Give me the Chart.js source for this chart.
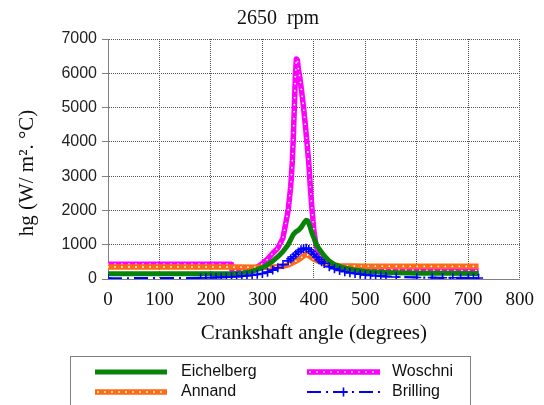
<!DOCTYPE html>
<html>
<head>
<meta charset="utf-8">
<script src="https://cdn.jsdelivr.net/npm/chart.js@4/dist/chart.umd.min.js"></script>
<style>
  html, body { margin: 0; padding: 0; background: #fff; }
  #wrap { width: 544px; height: 405px; position: relative; }
</style>
</head>
<body>
<div id="wrap"><canvas id="c" width="544" height="405"></canvas></div>
<script>
// Gas-side heat transfer coefficient over the cycle, 2650 rpm
const chartTitle = '2650  rpm';
const xTitle = 'Crankshaft angle (degrees)';
const yTitle = 'hg (W/ m\u00B2. \u00B0C)';

const eichelbergAngle = [0, 240, 260, 280, 300, 310, 320, 330, 340, 350, 355, 360, 365, 370, 375, 380, 385, 388, 392, 396, 400, 405, 410, 420, 430, 440, 460, 480, 500, 540, 600, 660, 720];
const eichelbergH     = [150, 150, 170, 220, 330, 420, 520, 650, 800, 1000, 1150, 1300, 1380, 1420, 1500, 1620, 1710, 1700, 1550, 1350, 1200, 1000, 880, 680, 520, 420, 320, 260, 220, 190, 170, 165, 160];

const annandAngle = [0, 240, 300, 320, 340, 350, 360, 370, 378, 385, 390, 395, 400, 410, 420, 430, 450, 500, 600, 720];
const annandH     = [350, 350, 340, 340, 370, 410, 480, 560, 650, 720, 690, 630, 580, 510, 460, 420, 390, 375, 370, 370];

const woschniAngle = [0, 240, 241, 270, 285, 300, 310, 320, 330, 340, 345, 350, 355, 358, 360, 362, 364, 366, 368, 370, 372, 376, 380, 384, 387, 390, 393, 396, 400, 404, 410, 416, 425, 435, 450, 480, 520, 560, 620, 720];
const woschniH     = [430, 430, 250, 250, 300, 450, 580, 750, 900, 1200, 1600, 2000, 2700, 3400, 4100, 5000, 5900, 6420, 6380, 6100, 5950, 5500, 5000, 4400, 3900, 3400, 2700, 2100, 1400, 1000, 720, 520, 430, 380, 330, 290, 270, 260, 250, 240];

const brillingAngle = [0, 180, 190, 200, 210, 220, 230, 240, 250, 260, 270, 280, 290, 300, 310, 320, 330, 340, 350, 355, 360, 365, 370, 375, 380, 385, 390, 395, 400, 405, 410, 415, 420, 430, 440, 450, 460, 470, 480, 490, 500, 510, 520, 530, 540, 560, 600, 630, 650, 670, 685, 700, 710, 720];
const brillingH     = [20, 30, 35, 40, 45, 50, 55, 60, 70, 80, 95, 110, 135, 160, 200, 260, 330, 420, 530, 590, 650, 720, 790, 850, 890, 900, 860, 800, 720, 640, 560, 500, 450, 360, 300, 250, 210, 180, 160, 140, 120, 105, 95, 85, 75, 60, 45, 40, 35, 35, 30, 30, 30, 30];

const xTicks = [0, 100, 200, 300, 400, 500, 600, 700, 800];
const yTicks = [0, 1000, 2000, 3000, 4000, 5000, 6000, 7000];

const toPoints = (xs, ys) => xs.map((x, i) => ({ x: x, y: ys[i] }));

const GREEN = '#078407', ORANGE = '#ff6a14', MAGENTA = '#ff00ff', BLUE = '#0000ff';
const SERIF = "'Liberation Serif', 'Times New Roman', serif";
const SANS = "'Liberation Sans', Arial, sans-serif";

const lineBase = { showLine: true, pointRadius: 0, tension: 0, fill: false, borderJoinStyle: 'round' };
const dotsBase = { showLine: true, pointRadius: 0, tension: 0, fill: false, borderColor: '#ffffff',
                   borderWidth: 1.8, borderDash: [0, 7], borderCapStyle: 'round', isDots: true };

const datasets = [
  Object.assign({}, lineBase, { label: 'Eichelberg', data: toPoints(eichelbergAngle, eichelbergH),
    borderColor: GREEN, borderWidth: 5, order: 1 }),
  Object.assign({}, lineBase, { label: 'Annand', data: toPoints(annandAngle, annandH),
    borderColor: ORANGE, borderWidth: 5.5, order: 3, dotted: true }),
  Object.assign({}, dotsBase, { label: '', data: toPoints(annandAngle, annandH), order: 2 }),
  Object.assign({}, lineBase, { label: 'Woschni', data: toPoints(woschniAngle, woschniH),
    borderColor: MAGENTA, borderWidth: 5.5, order: 5, dotted: true }),
  Object.assign({}, dotsBase, { label: '', data: toPoints(woschniAngle, woschniH), order: 4 }),
  Object.assign({}, lineBase, { label: 'Brilling', data: toPoints(brillingAngle, brillingH),
    borderColor: BLUE, borderWidth: 2.2, borderDash: [14, 5, 2, 5], order: 0,
    pointStyle: 'cross', pointRadius: 4.5, pointBorderWidth: 1.6, pointBorderColor: BLUE, pointBackgroundColor: BLUE })
];

// Legend in a box below the plot, two columns
const legendLayout = [
  { label: 'Eichelberg', x0: 95,  x1: 167, tx: 181, y: 372 },
  { label: 'Woschni',    x0: 307, x1: 380, tx: 392, y: 372 },
  { label: 'Annand',     x0: 95,  x1: 167, tx: 181, y: 392 },
  { label: 'Brilling',   x0: 307, x1: 380, tx: 392, y: 392 }
];

const boxLegend = {
  id: 'boxLegend',
  afterDraw(chart) {
    const ctx = chart.ctx;
    ctx.save();
    // chart title
    ctx.fillStyle = '#111';
    ctx.font = '20px ' + SERIF;
    ctx.textAlign = 'center';
    ctx.textBaseline = 'middle';
    ctx.fillText(chartTitle, 278, 19);

    ctx.strokeStyle = '#808080';
    ctx.lineWidth = 1;
    ctx.strokeRect(70.5, 356.5, 400, 60);
    legendLayout.forEach(item => {
      const ds = chart.data.datasets.find(d => d.label === item.label);
      ctx.save();
      ctx.strokeStyle = ds.borderColor;
      ctx.lineWidth = ds.borderWidth;
      ctx.setLineDash(ds.borderDash || []);
      ctx.lineCap = 'butt';
      ctx.beginPath();
      ctx.moveTo(item.x0, item.y);
      ctx.lineTo(item.x1, item.y);
      ctx.stroke();
      if (ds.dotted) {
        ctx.strokeStyle = '#ffffff';
        ctx.lineWidth = 1.8;
        ctx.setLineDash([0, 7]);
        ctx.lineCap = 'round';
        ctx.beginPath();
        ctx.moveTo(item.x0 + 3, item.y);
        ctx.lineTo(item.x1, item.y);
        ctx.stroke();
      }
      if (ds.pointStyle === 'cross') {
        const cx = (item.x0 + item.x1) / 2, r = ds.pointRadius;
        ctx.setLineDash([]);
        ctx.lineWidth = ds.pointBorderWidth;
        ctx.beginPath();
        ctx.moveTo(cx - r, item.y); ctx.lineTo(cx + r, item.y);
        ctx.moveTo(cx, item.y - r); ctx.lineTo(cx, item.y + r);
        ctx.stroke();
      }
      ctx.restore();
      ctx.fillStyle = '#111';
      ctx.font = '16px ' + SANS;
      ctx.textAlign = 'left';
      ctx.textBaseline = 'middle';
      ctx.fillText(item.label, item.tx, item.y);
    });
    // vertical axis title
    ctx.translate(27, 173);
    ctx.rotate(-Math.PI / 2);
    ctx.fillStyle = '#111';
    ctx.font = '21px ' + SERIF;
    ctx.textAlign = 'center';
    ctx.textBaseline = 'middle';
    ctx.fillText(yTitle, 0, 0);
    ctx.restore();
  }
};

new Chart(document.getElementById('c'), {
  type: 'scatter',
  data: { datasets: datasets },
  plugins: [boxLegend],
  options: {
    responsive: false,
    animation: false,
    devicePixelRatio: 1,
    events: [],
    layout: { padding: { left: 0, right: 23, top: 39, bottom: 0 } },
    plugins: {
      legend: { display: false },
      tooltip: { enabled: false },
      title: { display: false }
    },
    scales: {
      x: {
        type: 'linear', min: 0, max: 800,
        afterFit(scale) { scale.height = 126; },
        afterBuildTicks(scale) { scale.ticks = xTicks.map(v => ({ value: v })); },
        ticks: { color: '#111', font: { family: SERIF, size: 19 }, padding: 10, maxRotation: 0, autoSkip: false,
                 callback: v => String(v) },
        grid: { color: '#555', drawTicks: false },
        border: { display: true, color: '#808080', width: 1, dash: [1, 1] },
        title: { display: true, text: xTitle, color: '#111', font: { family: SERIF, size: 21 },
                 padding: { top: 0, bottom: 59 } }
      },
      y: {
        type: 'linear', min: 0, max: 7000,
        afterFit(scale) { scale.width = 108; },
        afterBuildTicks(scale) { scale.ticks = yTicks.map(v => ({ value: v })); },
        ticks: { color: '#222', font: { family: SANS, size: 16 }, padding: 5, autoSkip: false,
                 callback: v => String(v) },
        grid: { color: '#555', drawTicks: true, tickLength: 6, tickColor: '#808080', tickBorderDash: [] },
        border: { display: true, color: '#808080', width: 1, dash: [1, 1] }
      }
    }
  }
});
</script>
</body>
</html>
